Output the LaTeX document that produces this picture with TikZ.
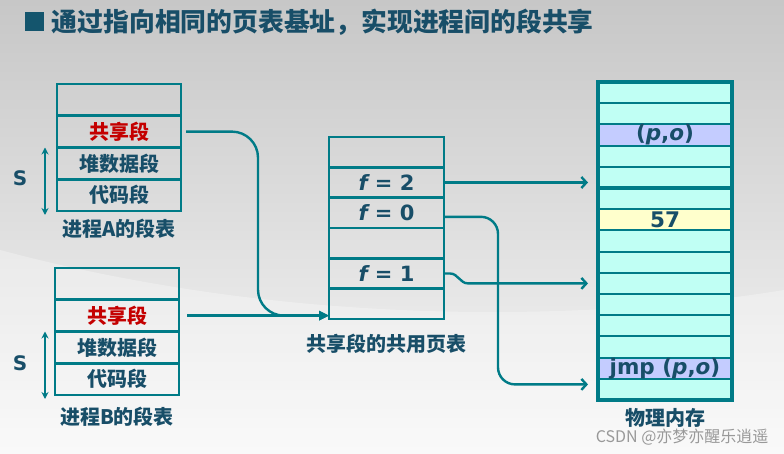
\documentclass[tikz,border=0pt]{standalone}
\usepackage{fontspec}
\setmainfont{DejaVu Sans}
\newfontfamily\cjk{Noto Sans CJK SC}
\usetikzlibrary{positioning, arrows.meta, fit, calc}

\definecolor{lineteal}{RGB}{0,123,135}
\definecolor{inkblue}{RGB}{24,78,104}
\definecolor{segred}{RGB}{196,0,0}
\definecolor{memcyan}{RGB}{192,255,244}
\definecolor{memlav}{RGB}{196,204,255}
\definecolor{memyellow}{RGB}{255,255,204}

\begin{document}
\begin{tikzpicture}[x=1pt, y=-1pt,
  segrow/.style={
    rectangle, draw=lineteal, line width=2.6pt, outer sep=0pt,
    minimum width=124pt, minimum height=31.75pt, inner sep=0pt,
    font=\cjk\bfseries\fontsize{20}{24}\selectfont, text=#1,
  },
  segrow/.default=inkblue,
  pagerow/.style={
    rectangle, draw=lineteal, line width=2.6pt, outer sep=0pt,
    minimum width=115pt, minimum height=30.33pt, inner sep=0pt,
    font=\bfseries\fontsize{21}{24}\selectfont, text=inkblue,
  },
  memrow/.style={
    rectangle, draw=lineteal, line width=2pt, outer sep=0pt, fill=#1,
    minimum width=134pt, minimum height=21.2pt, inner sep=0pt,
    font=\bfseries\fontsize{21.5}{22}\selectfont, text=inkblue,
  },
  memrow/.default=memcyan,
  caption/.style={font=\cjk\bfseries\fontsize{20}{24}\selectfont, text=inkblue, inner sep=0pt},
  sizelabel/.style={font=\bfseries\fontsize{20}{22}\selectfont, text=inkblue},
  tabarrow/.style={-{Triangle[length=10pt,width=9pt]}, line width=2.4pt, draw=lineteal},
  memarrow/.style={-{Straight Barb[length=5pt,width=11pt]}, line width=2.4pt, draw=lineteal, shorten >=10pt},
  sizearrow/.style={{Stealth[length=7pt,width=7pt]}-{Stealth[length=7pt,width=7pt]}, line width=1.6pt, draw=lineteal},
]
\useasboundingbox (0,0) rectangle (784,454);
\shade[top color=black!22, bottom color=black!3] (0,0) rectangle (784,454);
\fill[white, opacity=0.3] (0,250) .. controls (300,330) and (600,320) .. (784,290)
  -- (784,454) -- (0,454) -- cycle;

% title line
\node[fill=inkblue!85!lineteal, minimum size=19pt, inner sep=0pt] (bullet) at (34,22) {};
\node[font=\cjk\bfseries\fontsize{25.8}{30}\selectfont, text=inkblue, inner sep=0pt,
  right=8pt of bullet] (title) {通过指向相同的页表基址，实现进程间的段共享};

% segment table of process A
\node[segrow, anchor=north west]      (aTop)   at (57,84) {};
\node[segrow=segred, below=0pt of aTop]   (aShare) {共享段};
\node[segrow, below=0pt of aShare]    (aHeap)  {堆数据段};
\node[segrow, below=0pt of aHeap]     (aCode)  {代码段};
\node[caption, below=8pt of aCode]    (aName)  {进程A的段表};
\draw[sizearrow] ([xshift=-12pt]aHeap.north west) -- ([xshift=-12pt,yshift=-4pt]aCode.south west);
\node[sizelabel] (aSize) at (20,178) {S};

% segment table of process B
\node[segrow, anchor=north west]      (bTop)   at (55,268) {};
\node[segrow=segred, below=0pt of bTop]   (bShare) {共享段};
\node[segrow, below=0pt of bShare]    (bHeap)  {堆数据段};
\node[segrow, below=0pt of bHeap]     (bCode)  {代码段};
\node[caption, below=12pt of bCode]   (bName)  {进程B的段表};
\draw[sizearrow] ([xshift=-10pt]bHeap.north west) -- ([xshift=-10pt,yshift=-4pt]bCode.south west);
\node[sizelabel] (bSize) at (20,363) {S};

% shared page table
\node[pagerow, anchor=north west]     (p1) at (329,137) {};
\node[pagerow, below=0pt of p1]       (p2) {{\itshape f} = 2};
\node[pagerow, below=0pt of p2]       (p3) {{\itshape f} = 0};
\node[pagerow, below=0pt of p3]       (p4) {};
\node[pagerow, below=0pt of p4]       (p5) {{\itshape f} = 1};
\node[pagerow, below=0pt of p5]       (p6) {};
\node[caption, below=15pt of p6]      (pName) {共享段的共用页表};

% physical memory
\node[memrow, anchor=north] (m1) at (665,82) {};
\foreach \i [remember=\i as \prev (initially 1)] in {2,...,15}
  \node[memrow, below=0pt of m\prev] (m\i) {};
\node[memrow=memlav]    (mData) at (m3)  {({\itshape p},{\itshape o})};
\node[memrow=memyellow] (mVal)  at (m7)  {57};
\node[memrow=memlav]    (mJmp)  at (m14) {jmp ({\itshape p},{\itshape o})};
\draw[lineteal, line width=4pt] (m5.south west) -- (m5.south east);
\node[fit=(m1)(m15), inner sep=0pt, draw=lineteal, line width=4pt] (mem) {};
\node[caption, below=6pt of mem] (memName) {物理内存};

\node[font=\cjk\fontsize{16}{18}\selectfont, text=black!40, anchor=east] (mark) at (772,437)
  {CSDN @亦梦亦醒乐逍遥};

% both segment tables point at the same page table
\coordinate (shareIn) at (bShare.east -| p1.west);
\coordinate (dropA) at ([xshift=77pt]aShare.east);
\draw[tabarrow, rounded corners=26pt] ([xshift=5pt]aShare.east) -| (dropA |- shareIn) -- (shareIn);
\draw[tabarrow] ([xshift=8pt]bShare.east) -- (shareIn);

% page table entries into frames
\draw[memarrow] (p2.east) -- (p2.east -| m5.west);
\coordinate (dropF0) at ([xshift=54pt]p3.east);
\coordinate (memIn0) at ([yshift=5pt]m15.west);
\draw[memarrow, rounded corners=17pt] ([yshift=-4pt]p3.east) -| (dropF0 |- memIn0) -- (memIn0);
\coordinate (jogF1) at ($(p5.east |- m10.west)+(24,0)$);
\draw[memarrow] (p5.east) -- ++(6,0) to[out=0, in=180] (jogF1) -- (m10.west);
\end{tikzpicture}
\end{document}
